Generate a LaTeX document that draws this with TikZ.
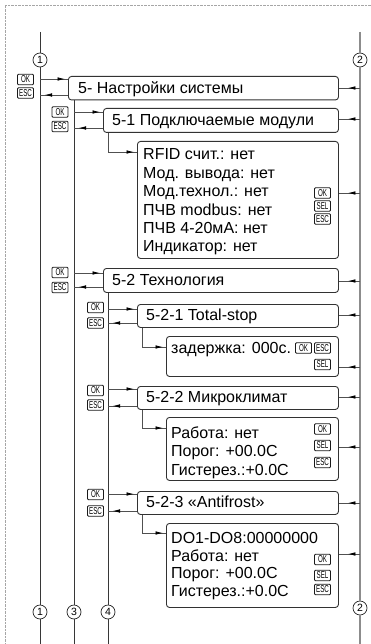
\documentclass[tikz,border=0pt]{standalone}
\usepackage{fontspec}
\setmainfont{Liberation Sans}
\usetikzlibrary{arrows.meta,decorations.markings}

\definecolor{railc}{RGB}{55,55,55}
\definecolor{rail2c}{RGB}{140,140,140}
\definecolor{boxc}{RGB}{50,50,50}
\definecolor{linkc}{RGB}{80,80,80}

\newcommand{\keytxt}[1]{\scalebox{0.62}[1]{#1}}

\tikzset{
  frame/.style={draw=gray!70, line width=0.9pt, dash pattern=on 0.7pt off 0.7pt},
  rail/.style={draw=railc, line width=0.9pt},
  railtwo/.style={draw=rail2c, line width=1.4pt},
  tag/.style={circle, draw=black!85, fill=white, line width=0.7pt,
    minimum size=14pt, inner sep=0pt, font=\fontsize{10.5}{10.5}\selectfont},
  menubox/.style={draw=boxc, line width=0.9pt, rounded corners=3pt,
    fill=white, anchor=north west, inner sep=0pt},
  title/.style={anchor=base west, inner sep=0pt, font=\fontsize{16}{16}\selectfont},
  body/.style={anchor=base west, inner sep=0pt, font=\fontsize{16}{16}\selectfont},
  key/.style={draw=black!90, line width=0.9pt, rounded corners=1pt, fill=white,
    inner sep=0pt, minimum width=16pt, minimum height=10.5pt,
    font=\fontsize{10}{10}\selectfont},
  link/.style={draw=linkc, line width=0.8pt},
  tipmark/.style={postaction={decorate}, decoration={markings,
    mark=at position -#1 with {\arrow[black]{Latex[length=7.5pt,width=3.6pt]}}}},
  fwd/.style={link, tipmark=3pt},
  back/.style={link, tipmark=4.5pt},
  inb/.style={link, tipmark=9pt},
}

\begin{document}
\begin{tikzpicture}[x=1pt,y=-1pt]
\useasboundingbox (0,0) rectangle (371,644);

% page frame (top and left edges)
\draw[frame] (371,5) -- (5,5) -- (5,644);

% marker circles on the rails
\node[tag] (c1t) at (40,60) {1};
\node[tag] (c2t) at (360,60) {2};
\node[tag] (c1b) at (40,612) {1};
\node[tag] (c3b) at (74,612) {3};
\node[tag] (c4b) at (108,612) {4};
\node[tag] (c2b) at (360,608) {2};
\coordinate (r1top) at (40,32);
\coordinate (r2top) at (360,32);
\coordinate (r1bot) at (40,644);
\coordinate (r2bot) at (360,644);

% menu boxes
\node[menubox, minimum width=270pt, minimum height=23.5pt] (b5)   at (68,76)  {};
\node[menubox, minimum width=235pt, minimum height=24pt]   (b51)  at (103,108) {};
\node[menubox, minimum width=201pt, minimum height=117pt]  (brf)  at (137,141) {};
\node[menubox, minimum width=235pt, minimum height=24pt]   (b52)  at (103,268) {};
\node[menubox, minimum width=201pt, minimum height=23pt]   (b521) at (137,304) {};
\node[menubox, minimum width=172pt, minimum height=40pt]   (bzad) at (166,336) {};
\node[menubox, minimum width=201pt, minimum height=23pt]   (b522) at (137,386) {};
\node[menubox, minimum width=172pt, minimum height=63pt]   (brab) at (166,417) {};
\node[menubox, minimum width=201pt, minimum height=23pt]   (b523) at (137,491) {};
\node[menubox, minimum width=172pt, minimum height=84pt]   (bdo)  at (166,523) {};

% rails
\draw[rail] (r1top) -- (c1t) -- (c1b) -- (r1bot);
\draw[railtwo] (r2top) -- (c2t) -- (c2b) -- (r2bot);
\draw[rail] (c3b |- b5.south) -- (c3b) -- (c3b |- r1bot);
\draw[rail] (c4b |- b52.south) -- (c4b) -- (c4b |- r1bot);

% box titles
\node[title] (t5)   at (78,93.5)   {5- Настройки системы};
\node[title] (t51)  at (112,125.5) {5-1 Подключаемые модули};
\node[title] (t52)  at (112,285.5) {5-2 Технология};
\node[title] (t521) at (146,320.5) {5-2-1 Total-stop};
\node[title] (t522) at (146,402.5) {5-2-2 Микроклимат};
\node[title] (t523) at (146,507.5) {5-2-3 «Antifrost»};

% box contents
\node[body] (rf1) at (143,160)   {RFID счит.: нет};
\node[body] (rf2) at (143,178.3) {Мод. вывода: нет};
\node[body] (rf3) at (143,196.7) {Мод.технол.: нет};
\node[body] (rf4) at (143,215)   {ПЧВ modbus: нет};
\node[body] (rf5) at (143,233.3) {ПЧВ 4-20мА: нет};
\node[body] (rf6) at (143,251.7) {Индикатор: нет};
\node[body] (zd1) at (171,353)   {задержка: 000с.};
\node[body] (rb1) at (171,438)   {Работа: нет};
\node[body] (rb2) at (171,456.5) {Порог: +00.0C};
\node[body] (rb3) at (171,475)   {Гистерез.:+0.0C};
\node[body] (do1) at (171,543.3) {DO1-DO8:00000000};
\node[body] (do2) at (171,561)   {Работа: нет};
\node[body] (do3) at (171,578.5) {Порог: +00.0C};
\node[body] (do4) at (171,596.5) {Гистерез.:+0.0C};

% keys beside the rails
\node[key] (k5ok)   at (25.5,79.5)  {\keytxt{OK}};
\node[key] (k5esc)  at (25.5,93)    {\keytxt{ESC}};
\node[key] (k51ok)  at (60,112)     {\keytxt{OK}};
\node[key] (k51esc) at (60,126.5)   {\keytxt{ESC}};
\node[key] (k52ok)  at (60,272.5)   {\keytxt{OK}};
\node[key] (k52esc) at (60,287.5)   {\keytxt{ESC}};
\node[key] (k521ok) at (95.5,307.5) {\keytxt{OK}};
\node[key] (k521es) at (95.5,323)   {\keytxt{ESC}};
\node[key] (k522ok) at (95.5,390.5) {\keytxt{OK}};
\node[key] (k522es) at (95.5,405)   {\keytxt{ESC}};
\node[key] (k523ok) at (95.5,494.5) {\keytxt{OK}};
\node[key] (k523es) at (95.5,511)   {\keytxt{ESC}};

% keys inside the parameter boxes
\node[key] (krfok)  at (322.5,193)  {\keytxt{OK}};
\node[key] (krfsel) at (322.5,206)  {\keytxt{SEL}};
\node[key] (krfesc) at (322.5,219)  {\keytxt{ESC}};
\node[key] (kzdok)  at (303.5,348)  {\keytxt{OK}};
\node[key] (kzdesc) at (322.5,348)  {\keytxt{ESC}};
\node[key] (kzdsel) at (322.5,364.5){\keytxt{SEL}};
\node[key] (krbok)  at (322.5,429)  {\keytxt{OK}};
\node[key] (krbsel) at (322.5,445.5){\keytxt{SEL}};
\node[key] (krbesc) at (322.5,462.5){\keytxt{ESC}};
\node[key] (kdook)  at (322.5,559.5){\keytxt{OK}};
\node[key] (kdosel) at (322.5,575.5){\keytxt{SEL}};
\node[key] (kdoesc) at (322.5,589.5){\keytxt{ESC}};

% level 1: rail 1 <-> 5
\draw[fwd]  (c1t |- 0,79) -- (b5.west |- 0,79);
\draw[back] (b5.west |- 0,95) -- (c1t |- 0,95);
\draw[inb]  (c2t |- 0,88) -- (b5.east |- 0,88);

% level 2: rail 3 <-> 5-1, 5-2
\draw[fwd]  (c3b |- 0,112) -- (b51.west |- 0,112);
\draw[back] (b51.west |- 0,128) -- (c3b |- 0,128);
\draw[inb]  (c2t |- 0,119) -- (b51.east |- 0,119);
\draw[fwd]  (c3b |- 0,273) -- (b52.west |- 0,273);
\draw[back] (b52.west |- 0,287) -- (c3b |- 0,287);
\draw[inb]  (c2t |- 0,281) -- (b52.east |- 0,281);

% 5-1 -> module list
\draw[fwd]  (c4b |- b51.south) |- (brf.west |- 0,152);
\draw[inb]  (c2t |- 0,193) -- (brf.east |- 0,193);

% level 3: rail 4 <-> 5-2-x
\draw[fwd]  (c4b |- 0,309) -- (b521.west |- 0,309);
\draw[back] (b521.west |- 0,323) -- (c4b |- 0,323);
\draw[inb]  (c2t |- 0,315) -- (b521.east |- 0,315);
\draw[fwd]  (142,0 |- b521.south) |- (bzad.west |- 0,347);
\draw[inb]  (c2t |- 0,367) -- (bzad.east |- 0,367);

\draw[fwd]  (c4b |- 0,389) -- (b522.west |- 0,389);
\draw[back] (b522.west |- 0,406) -- (c4b |- 0,406);
\draw[inb]  (c2t |- 0,397) -- (b522.east |- 0,397);
\draw[fwd]  (142,0 |- b522.south) |- (brab.west |- 0,428);
\draw[inb]  (c2t |- 0,447) -- (brab.east |- 0,447);

\draw[fwd]  (c4b |- 0,494) -- (b523.west |- 0,494);
\draw[back] (b523.west |- 0,511) -- (c4b |- 0,511);
\draw[inb]  (c2t |- 0,503) -- (b523.east |- 0,503);
\draw[fwd]  (142,0 |- b523.south) |- (bdo.west |- 0,533);
\draw[inb]  (c2t |- 0,554) -- (bdo.east |- 0,554);
\end{tikzpicture}
\end{document}
